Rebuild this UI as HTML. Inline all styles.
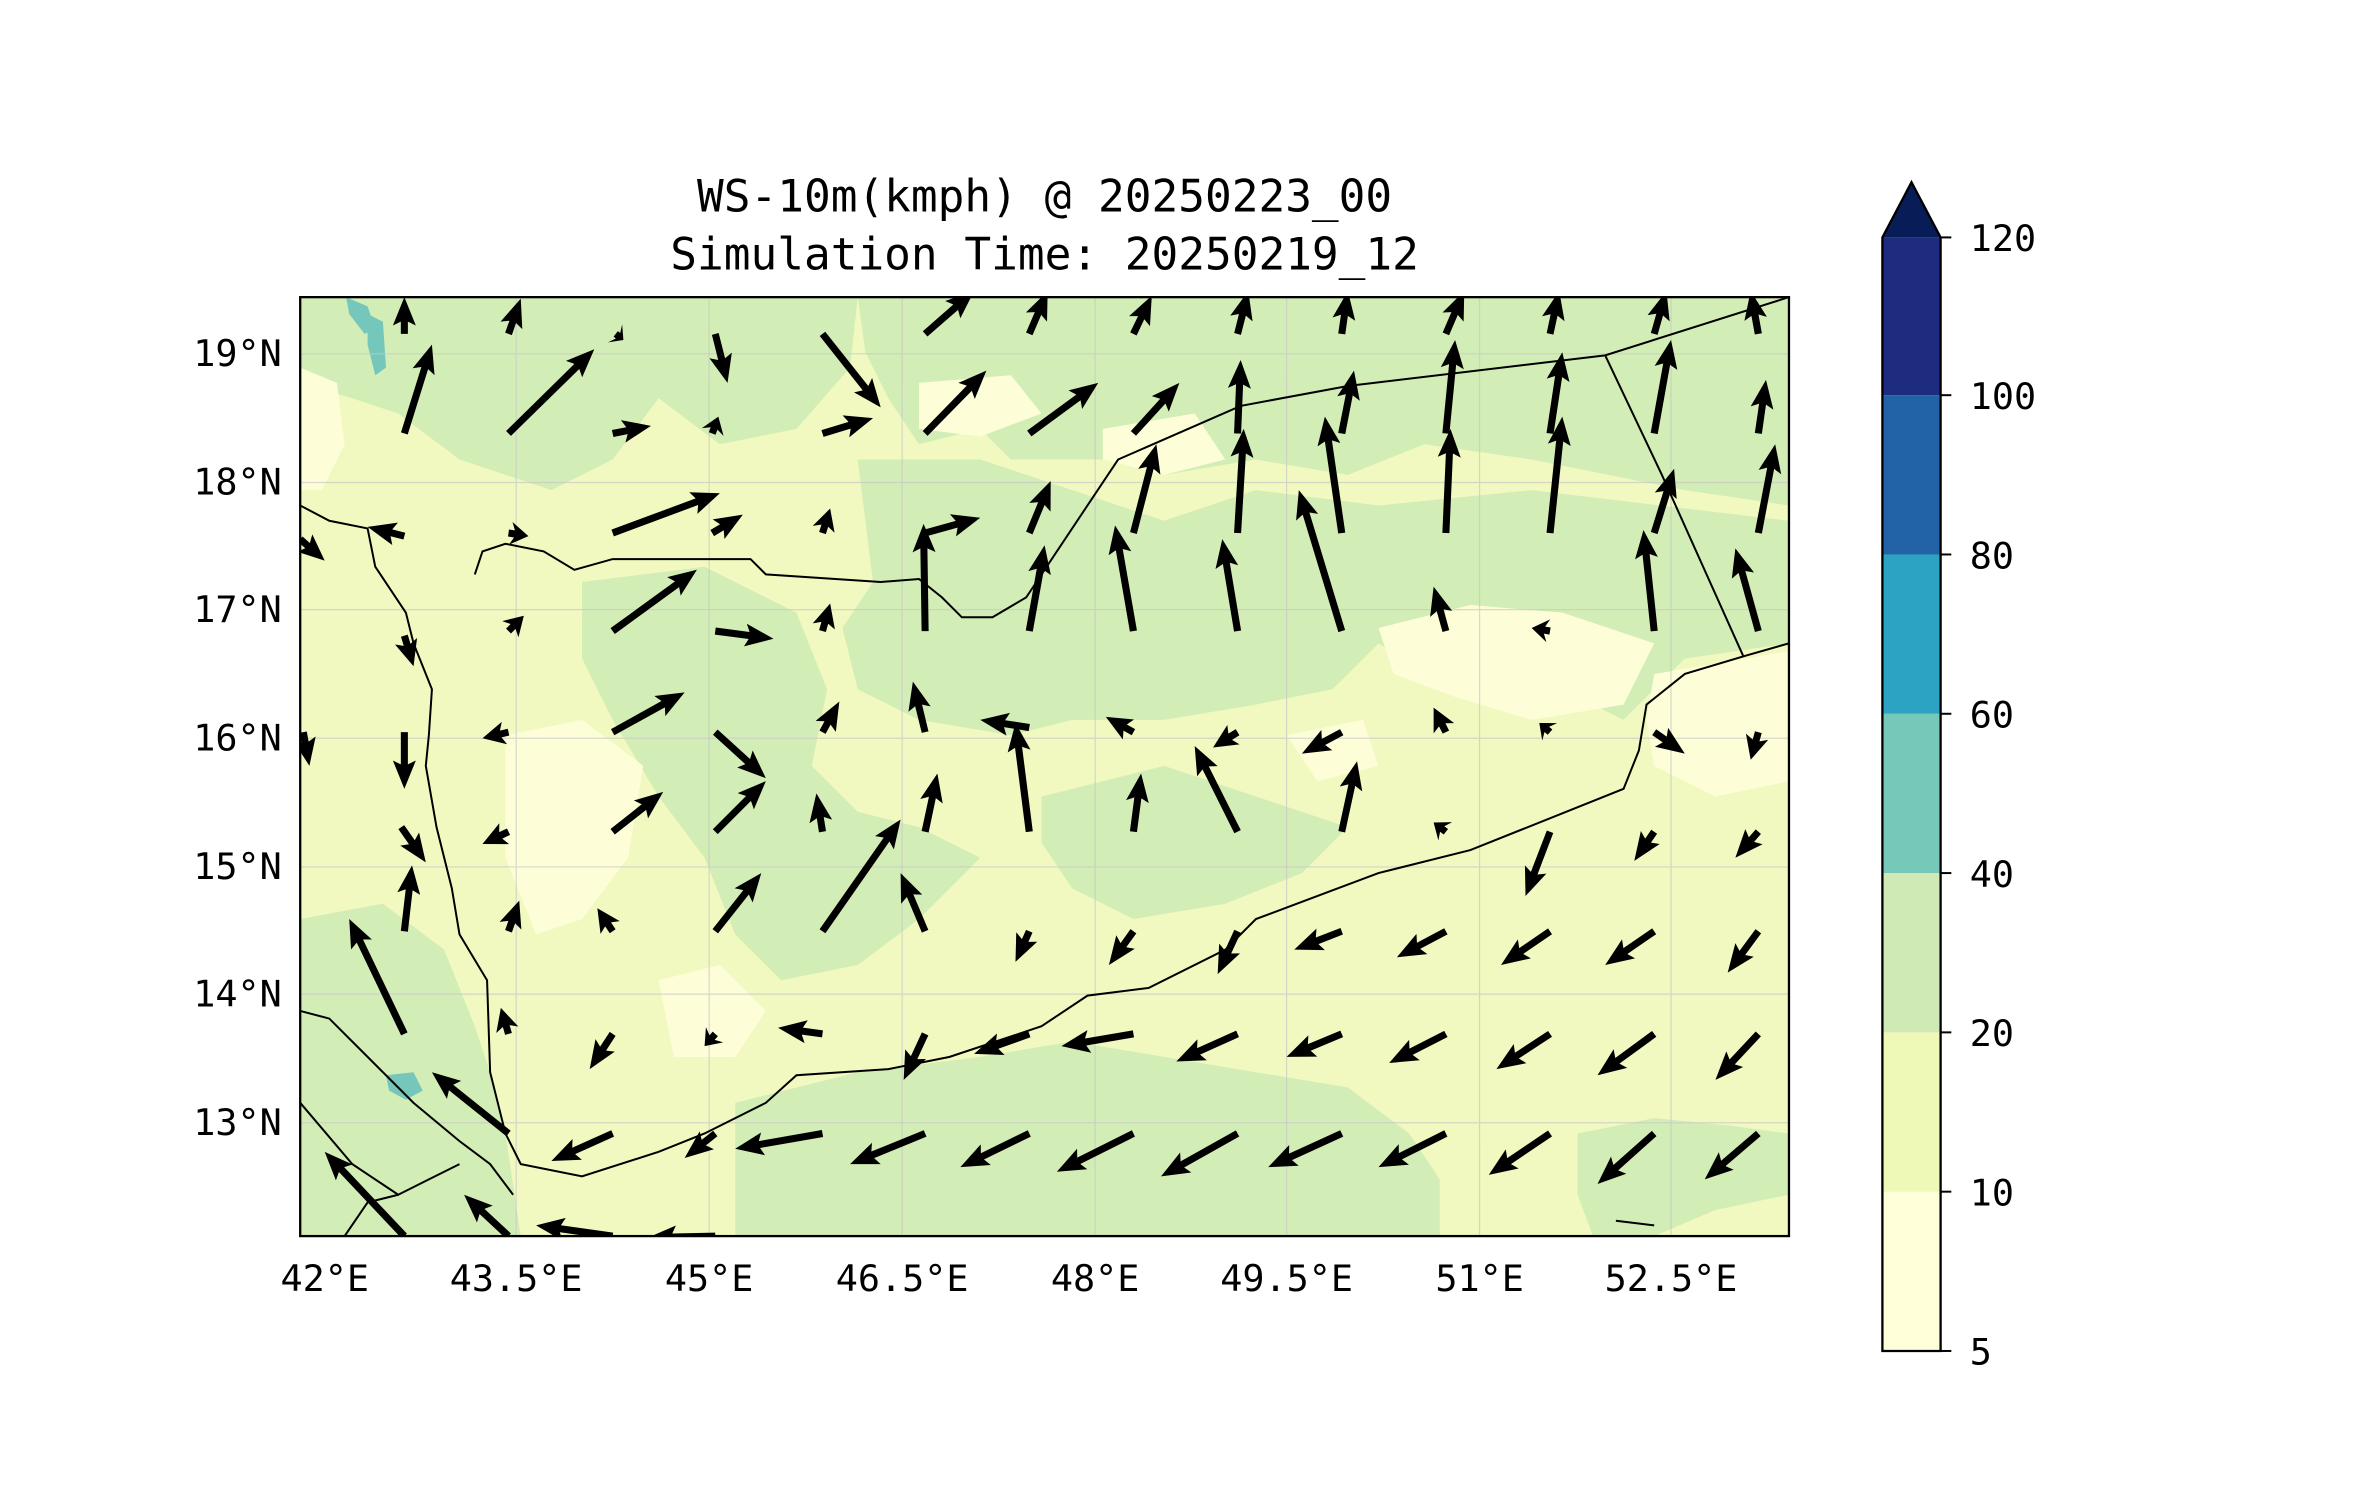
<!DOCTYPE html>
<html><head><meta charset="utf-8"><style>
html,body{margin:0;padding:0;background:#fff;}
svg{display:block;}
text{font-family:"DejaVu Sans Mono","Liberation Mono",monospace;fill:#000;}
</style></head><body>
<svg id="s" width="2371" height="1500" viewBox="0 0 1548 979.3" preserveAspectRatio="none" xmlns="http://www.w3.org/2000/svg">
<defs><clipPath id="c"><rect x="196" y="194" width="972" height="613"/></clipPath></defs>
<text x="682" y="138" font-size="29" text-anchor="middle">WS-10m(kmph) @ 20250223_00</text>
<text x="682" y="176" font-size="29" text-anchor="middle">Simulation Time: 20250219_12</text>
<g clip-path="url(#c)">
<rect x="196" y="194" width="972" height="613" fill="#f1f9c0"/>
<g fill="#d3edb6">
<path d="M196,194 H560 L555,240 520,280 470,290 430,260 400,300 360,320 300,300 260,270 230,260 196,250Z"/>
<path d="M560,194 H1168 V330 L1100,320 1000,300 930,290 880,310 820,300 760,310 720,300 660,300 640,280 600,290 580,260 565,230Z"/>
<path d="M560,300 L640,300 700,320 760,340 820,320 900,330 1000,320 1168,340 V420 L1100,430 1060,470 1000,440 930,440 900,420 870,450 820,460 760,470 700,470 660,480 600,470 560,450 550,410 570,380Z"/>
<path d="M380,380 L460,370 520,400 540,450 530,500 560,530 600,540 640,560 600,600 560,630 510,640 480,610 460,560 430,520 400,470 380,430Z"/>
<path d="M680,520 L760,500 820,520 880,540 850,570 800,590 740,600 700,580 680,550Z"/>
<path d="M196,600 L250,590 290,620 310,670 320,700 330,740 340,807 H196Z"/>
<path d="M480,720 L560,700 640,690 700,680 760,690 820,700 880,710 920,740 940,770 940,807 H480Z"/>
<path d="M1030,740 L1080,730 1130,735 1168,740 V780 L1120,790 1080,807 H1040 L1030,780Z"/>
</g>
<g fill="#fdfed8">
<path d="M900,410 L960,395 1020,400 1080,420 1060,460 1000,470 950,455 910,440Z"/>
<path d="M1080,440 L1140,430 1168,425 V510 L1120,520 1080,500 1075,470Z"/>
<path d="M196,240 L220,250 225,290 210,320 196,320Z"/>
<path d="M330,480 L380,470 420,500 410,560 380,600 350,610 330,560Z"/>
<path d="M600,250 L660,245 680,270 640,285 600,280Z"/>
<path d="M720,280 L780,270 800,300 760,310 720,300Z"/>
<path d="M430,640 L470,630 500,660 480,690 440,690Z"/>
<path d="M840,480 L890,470 900,500 860,510Z"/>
</g>
<g fill="#76c7bb">
<path d="M226,194 L240,200 245,215 238,218 228,205Z"/>
<path d="M240,205 L250,210 252,240 245,245 240,225Z"/>
<path d="M252,702 L270,700 276,712 265,718 254,712Z"/>
</g>
<g stroke="#c8c8c8" stroke-width="0.8" opacity="0.7">
<line x1="337" y1="194" x2="337" y2="807"/><line x1="463" y1="194" x2="463" y2="807"/><line x1="589" y1="194" x2="589" y2="807"/><line x1="715" y1="194" x2="715" y2="807"/><line x1="840" y1="194" x2="840" y2="807"/><line x1="966" y1="194" x2="966" y2="807"/><line x1="1091" y1="194" x2="1091" y2="807"/>
<line x1="196" y1="231" x2="1168" y2="231"/><line x1="196" y1="315" x2="1168" y2="315"/><line x1="196" y1="398" x2="1168" y2="398"/><line x1="196" y1="482" x2="1168" y2="482"/><line x1="196" y1="566" x2="1168" y2="566"/><line x1="196" y1="649" x2="1168" y2="649"/><line x1="196" y1="733" x2="1168" y2="733"/>
</g>
<g fill="none" stroke="#000" stroke-width="1.3">
<polyline points="196,330 215,340 240,345 245,370 265,400 270,420 282,450 280,480 278,500 285,540 295,580 300,610 318,640 320,700 330,740 340,760 380,768 430,752 460,740 500,720 520,702 580,698 620,690 680,670 710,650 750,645 800,620 820,600 900,570 960,555 1060,515 1070,490 1075,460 1100,440 1140,428 1168,420"/>
<polyline points="196,660 215,665 240,690 250,700 270,720 300,745 320,760 335,780"/>
<polyline points="196,720 230,760 260,780 280,770 300,760"/>
<polyline points="225,807 240,785 260,780"/>
<polyline points="310,375 315,360 330,355 355,360 375,372 400,365 490,365 500,375 575,380 600,378 615,390 628,403 648,403 670,390 730,300 810,265 880,252 1048,232 1168,194"/>
<polyline points="1048,232 1085,310 1138,428"/>
<polyline points="1055,797 1080,800"/>
</g>
<g id="arrows" fill="#000"></g>
</g>
<rect x="196" y="194" width="972" height="613" fill="none" stroke="#000" stroke-width="1.5"/>
<g font-size="24" text-anchor="middle">
<text x="212" y="843">42°E</text><text x="337" y="843">43.5°E</text><text x="463" y="843">45°E</text><text x="589" y="843">46.5°E</text><text x="715" y="843">48°E</text><text x="840" y="843">49.5°E</text><text x="966" y="843">51°E</text><text x="1091" y="843">52.5°E</text>
</g>
<g font-size="24" text-anchor="end">
<text x="184" y="239">19°N</text><text x="184" y="323">18°N</text><text x="184" y="406">17°N</text><text x="184" y="490">16°N</text><text x="184" y="574">15°N</text><text x="184" y="657">14°N</text><text x="184" y="741">13°N</text>
</g>
<rect x="1229" y="778" width="38" height="104" fill="#ffffd9"/>
<rect x="1229" y="674" width="38" height="104" fill="#eef8b7"/>
<rect x="1229" y="570" width="38" height="104" fill="#cfeab5"/>
<rect x="1229" y="466" width="38" height="104" fill="#76c8b8"/>
<rect x="1229" y="362" width="38" height="104" fill="#2ca3c2"/>
<rect x="1229" y="258" width="38" height="104" fill="#2262a6"/>
<rect x="1229" y="155" width="38" height="103" fill="#1e2c80"/>
<path d="M1229,155 L1248,119 L1267,155Z" fill="#081d58"/>
<path d="M1229,882 V155 L1248,119 L1267,155 V882Z" fill="none" stroke="#000" stroke-width="1.5"/>
<g stroke="#000" stroke-width="1.3">
<line x1="1267" y1="882" x2="1274" y2="882"/><line x1="1267" y1="778" x2="1274" y2="778"/><line x1="1267" y1="674" x2="1274" y2="674"/><line x1="1267" y1="570" x2="1274" y2="570"/><line x1="1267" y1="466" x2="1274" y2="466"/><line x1="1267" y1="362" x2="1274" y2="362"/><line x1="1267" y1="258" x2="1274" y2="258"/><line x1="1267" y1="155" x2="1274" y2="155"/>
</g>
<g font-size="24">
<text x="1286" y="891">5</text><text x="1286" y="787">10</text><text x="1286" y="683">20</text><text x="1286" y="579">40</text><text x="1286" y="475">60</text><text x="1286" y="371">80</text><text x="1286" y="267">100</text><text x="1286" y="164">120</text>
</g>
</svg>
<script>
var A=[
[264,218,264,194],[332,218,340,195],[402,218,407,222],[467,218,475,250],[537,218,575,266],[604,218,636,190],[672,218,684,190],[740,218,752,193],[808,218,815,190],[876,218,880,190],[944,218,956,190],[1012,218,1018,190],[1080,218,1088,190],[1148,218,1143,190],
[264,283,282,225],[332,283,388,228],[400,283,425,278],[465,283,469,272],[537,283,570,273],[604,283,644,242],[672,283,717,250],[740,283,770,250],[808,283,810,235],[876,283,884,242],[944,283,950,222],[1012,283,1020,230],[1080,283,1091,222],[1148,283,1153,248],
[264,350,240,344],[332,348,345,350],[400,348,470,322],[465,348,485,336],[537,348,542,332],[604,348,640,338],[672,348,686,314],[740,348,755,290],[808,348,812,280],[876,348,865,272],[944,348,947,280],[1012,348,1020,272],[1080,348,1093,306],[1148,348,1159,290],
[196,352,212,366],[264,415,270,435],[332,412,342,402],[400,412,455,372],[467,412,505,417],[537,412,542,394],[604,412,603,342],[672,412,682,356],[740,412,728,343],[808,412,798,352],[876,412,848,320],[944,412,936,383],[1012,412,1000,410],[1080,412,1073,346],[1148,412,1133,358],
[198,478,202,500],[264,478,264,515],[332,478,315,482],[400,478,447,452],[467,478,500,508],[537,478,548,458],[604,478,596,445],[672,475,640,470],[740,478,722,468],[808,478,792,488],[876,478,850,492],[944,478,936,462],[1012,478,1005,472],[1080,478,1100,492],[1148,478,1143,496],
[262,540,278,563],[332,543,315,551],[400,543,433,517],[467,543,500,510],[537,543,533,518],[604,543,612,505],[672,543,663,472],[740,543,745,505],[808,543,780,487],[876,543,886,497],[944,543,936,537],[1012,543,996,585],[1080,543,1067,562],[1148,543,1133,560],
[264,608,269,565],[332,608,339,588],[400,608,390,593],[467,608,497,570],[537,608,588,535],[604,608,588,570],[672,608,663,628],[740,608,724,630],[808,608,795,636],[876,608,845,620],[944,608,912,625],[1012,608,980,630],[1080,608,1048,630],[1148,608,1128,635],
[264,675,228,600],[332,675,327,658],[400,675,385,698],[467,675,460,683],[537,675,508,671],[604,675,590,705],[672,675,636,688],[740,675,693,683],[808,675,768,693],[876,675,840,690],[944,675,907,694],[1012,675,977,698],[1080,675,1043,702],[1148,675,1120,705],
[332,740,282,700],[400,740,360,758],[467,740,447,756],[537,740,480,750],[604,740,555,760],[672,740,627,762],[740,740,690,765],[808,740,758,768],[876,740,828,762],[944,740,900,762],[1012,740,972,767],[1080,740,1043,773],[1148,740,1113,770],
[264,807,212,752],[332,807,303,780],[400,807,350,800],[467,807,423,808]];
var g=document.getElementById('arrows'),h='';
A.forEach(function(a){var dx=a[2]-a[0],dy=a[3]-a[1],L=Math.hypot(dx,dy);if(L<1)return;var ux=dx/L,uy=dy/L,px=-uy,py=ux;
var hl=Math.min(16,L*0.7),hw=7.5,sw=2.3;var bx=a[2]-ux*hl,by=a[3]-uy*hl;
var p=[[a[0]+px*sw,a[1]+py*sw],[bx+px*sw,by+py*sw],[bx+px*hw-ux*2.5,by+py*hw-uy*2.5],[a[2],a[3]],[bx-px*hw-ux*2.5,by-py*hw-uy*2.5],[bx-px*sw,by-py*sw],[a[0]-px*sw,a[1]-py*sw]];
h+='<polygon points="'+p.map(function(q){return q[0].toFixed(1)+','+q[1].toFixed(1)}).join(' ')+'"/>';});
g.innerHTML=h;
</script>
</body></html>
